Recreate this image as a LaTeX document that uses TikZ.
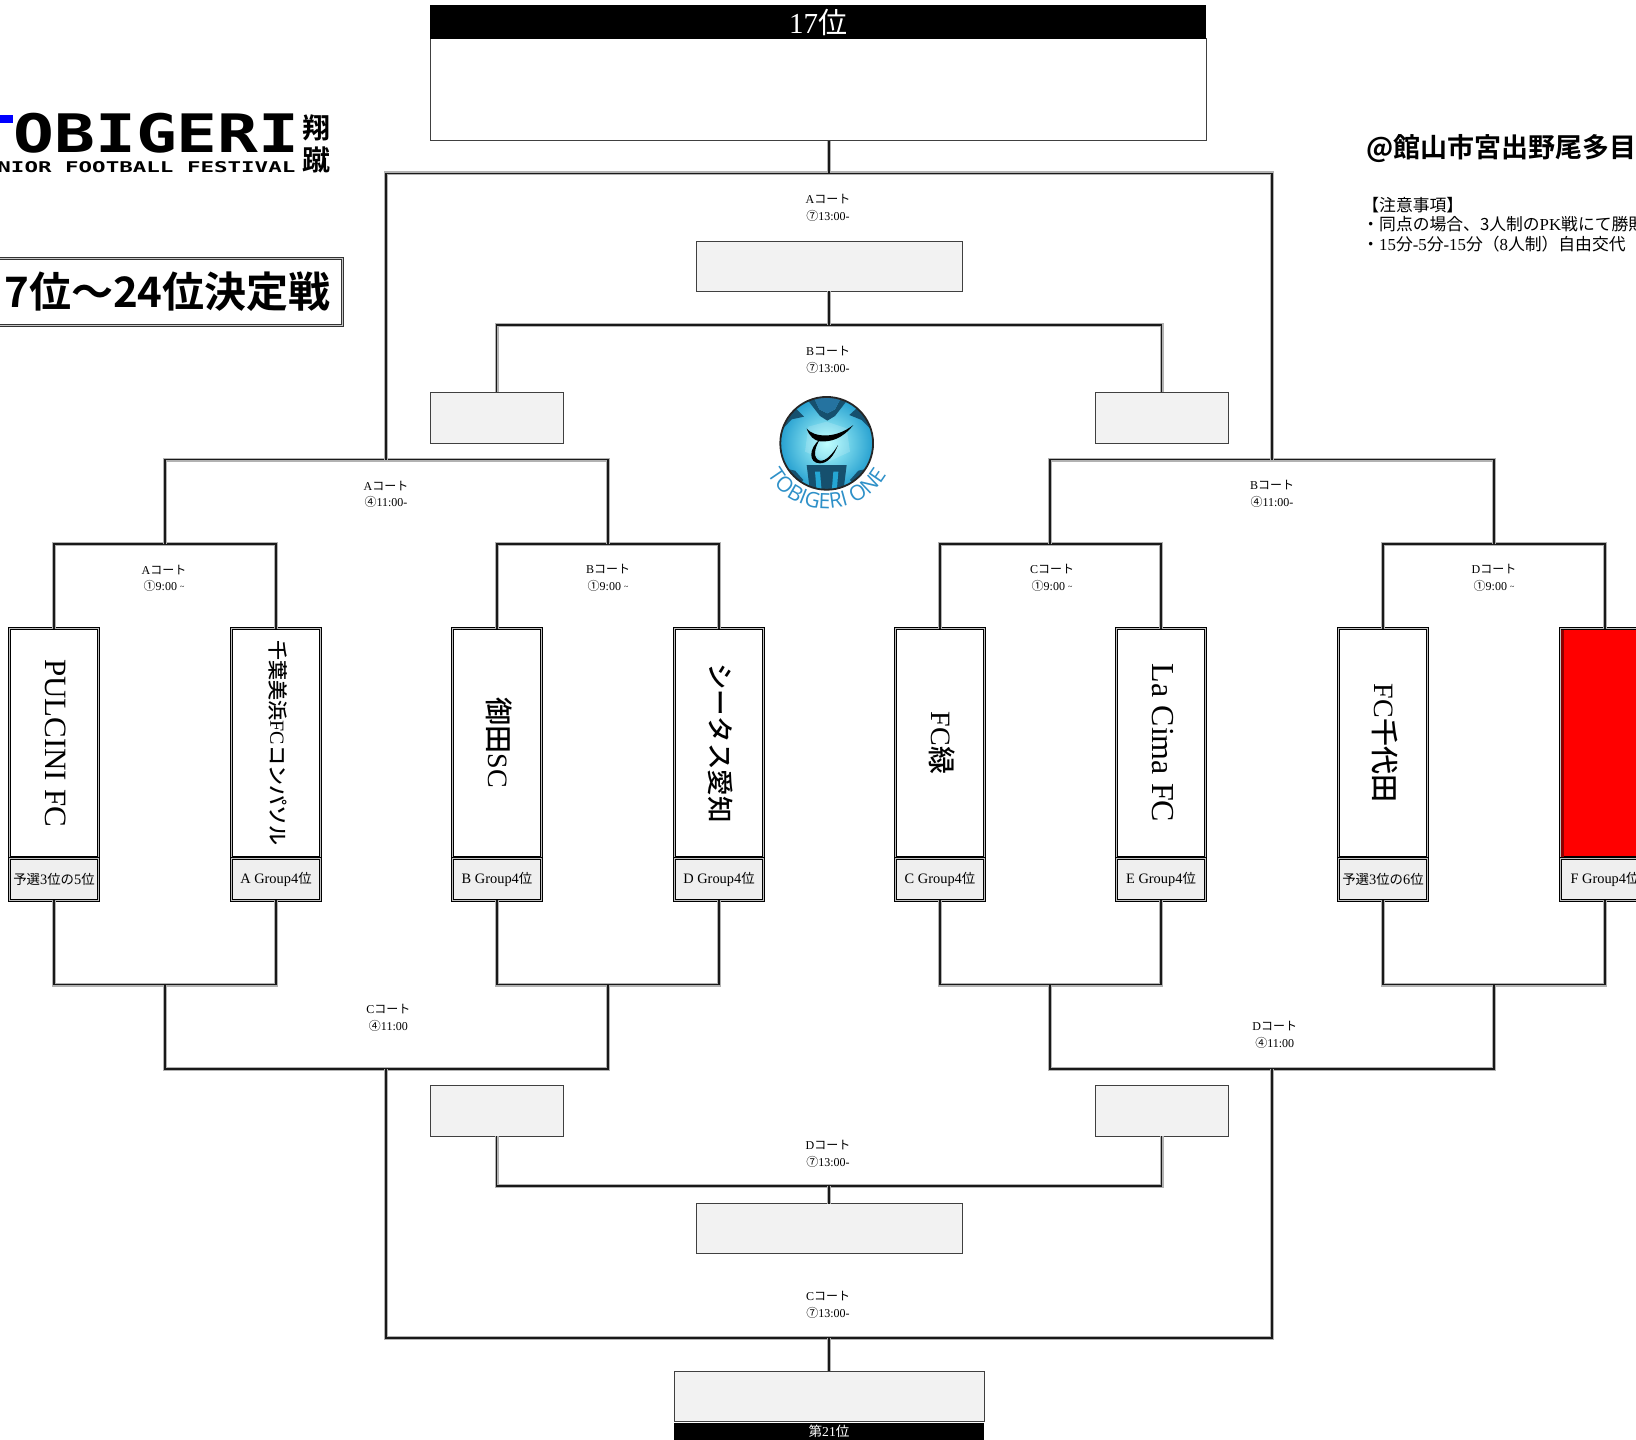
\documentclass[tikz,border=0pt]{standalone}
\usepackage{fontspec}
\usetikzlibrary{decorations.text}
\setmainfont{Liberation Serif}
\newfontfamily\jf{Noto Sans CJK JP}
\newfontfamily\jb{Noto Sans CJK JP Bold}
\newfontfamily\jm{Noto Sans CJK JP Medium}
\newfontfamily\logomono{DejaVu Sans Mono Bold}
\newfontfamily\arcfont{Open Sans}
\newcommand{\J}[1]{{\jf #1}}
\newcommand{\B}[1]{{\jb #1}}
\newcommand{\M}[1]{{\jm #1}}
\newcommand{\fs}[1]{\fontsize{#1}{#1}\selectfont}
\definecolor{boxgray}{HTML}{F2F2F2}
\definecolor{grpgray}{HTML}{EFEFEF}
\definecolor{ballblue}{HTML}{2E90C8}
\definecolor{balldark}{HTML}{16506E}
\tikzset{
  conn/.style={draw=black!90, line width=.62pt, line join=miter, preaction={draw=gray!60, line width=2pt}},
  teambox/.style={draw=black, line width=.45pt, double=gray!50, double distance=.55pt, minimum width=44.3pt, minimum height=114.2pt, inner sep=0pt, outer sep=0pt},
  groupbox/.style={draw=black, line width=.45pt, double=gray!50, double distance=.55pt, fill=grpgray, minimum width=44.3pt, minimum height=20.6pt, inner sep=0pt, outer sep=0pt, font=\fs{7.2}},
  emptybox/.style={draw=black!75, line width=.5pt, fill=boxgray, inner sep=0pt, outer sep=0pt},
  court/.style={align=center, inner sep=0pt, font=\fontsize{6}{8.2}\selectfont},
  tname/.style={rotate=-90, inner sep=0pt},
  blackbar/.style={fill=black, text=white, inner sep=0pt, outer sep=0pt}
}
\newcommand{\team}[6]{% id, x, name, group, fill
  \node[teambox,fill=#5] (t#1) at (#2,743) {};
  \node[tname] (n#1) at (#2+2,743) {#3};
  \node[groupbox] (g#1) at (#2,879.5) {#4};
}
\begin{document}
\begin{tikzpicture}[x=0.5pt,y=-0.5pt]
\path[use as bounding box,clip] (0,0) rectangle (1636,1439);

% ---- top and bottom result boxes
\node[draw=black!75,line width=.5pt,fill=white,minimum width=388pt,minimum height=51pt,inner sep=0pt,outer sep=0pt] (top17) at (818,90) {};
\node[blackbar,minimum width=388pt,minimum height=17pt] (hdr) at (818,22) {\fs{14.5}17\J{位}};
\node[emptybox,minimum width=155pt,minimum height=25.2pt] (fbot) at (829,1396.5) {};
\node[blackbar,minimum width=155pt,minimum height=8.5pt] (ftr) at (829,1431) {\fs{6.8}\J{第}21\J{位}};

% ---- semi-final boxes
\node[emptybox,minimum width=133pt,minimum height=25pt] (sfA) at (829,266) {};
\node[emptybox,minimum width=66.5pt,minimum height=25.5pt] (qfAL) at (496.5,417.5) {};
\node[emptybox,minimum width=66.5pt,minimum height=25.5pt] (qfAR) at (1161.5,417.5) {};
\node[emptybox,minimum width=133pt,minimum height=25pt] (sfB) at (829,1228.5) {};
\node[emptybox,minimum width=66.5pt,minimum height=25.5pt] (qfBL) at (496.5,1110.5) {};
\node[emptybox,minimum width=66.5pt,minimum height=25.5pt] (qfBR) at (1161.5,1110.5) {};

% ---- teams
\team{1}{54}{\fs{15.5}PULCINI FC}{\J{\fs{6.7}予選}3\J{\fs{6.7}位の}5\J{\fs{6.7}位}}{white}{}
\team{2}{276}{\fs{10}\M{千葉美浜}FC\M{コンパソル}}{A Group4\J{\fs{6.7}位}}{white}{}
\team{3}{497}{\fs{14}\M{御田}SC}{B Group4\J{\fs{6.7}位}}{white}{}
\team{4}{719}{\fs{13.3}\M{シータス愛知}}{D Group4\J{\fs{6.7}位}}{white}{}
\team{5}{940}{\fs{14}FC\M{緑}}{C Group4\J{\fs{6.7}位}}{white}{}
\team{6}{1161}{\fs{16}La Cima FC}{E Group4\J{\fs{6.7}位}}{white}{}
\team{7}{1383}{\fs{14}FC\M{千代田}}{\J{\fs{6.7}予選}3\J{\fs{6.7}位の}6\J{\fs{6.7}位}}{white}{}
\team{8}{1605}{}{F Group4\J{\fs{6.7}位}}{red}{}
\fill[red!55!black] (1560.5,629.5) rectangle (1564,857);

% ---- junctions
\coordinate (u1) at (165,544);
\coordinate (u2) at (608,544);
\coordinate (u3) at (1050,544);
\coordinate (u4) at (1494,544);
\coordinate (v1) at (386,459.5);
\coordinate (v2) at (1272,459.5);
\coordinate (w) at (829,173.5);
\coordinate (xA) at (829,325);
\coordinate (d1) at (165,984.5);
\coordinate (d2) at (608,984.5);
\coordinate (d3) at (1050,984.5);
\coordinate (d4) at (1494,984.5);
\coordinate (e1) at (386,1069);
\coordinate (e2) at (1272,1069);
\coordinate (f) at (829,1338);
\coordinate (xB) at (829,1186);

% ---- connectors, upper half
\draw[conn] (t1.north) |- (u1) -| (t2.north);
\draw[conn] (t3.north) |- (u2) -| (t4.north);
\draw[conn] (t5.north) |- (u3) -| (t6.north);
\draw[conn] (t7.north) |- (u4) -| (t8.north);
\draw[conn] (u1) |- (v1) -| (u2);
\draw[conn] (u3) |- (v2) -| (u4);
\draw[conn] (v1) |- (w) -| (v2);
\draw[conn] (top17.south -| w) -- (w);
\draw[conn] (qfAL.north) |- (xA) -| (qfAR.north);
\draw[conn] (sfA.south) -- (xA);
% ---- connectors, lower half
\draw[conn] (g1.south) |- (d1) -| (g2.south);
\draw[conn] (g3.south) |- (d2) -| (g4.south);
\draw[conn] (g5.south) |- (d3) -| (g6.south);
\draw[conn] (g7.south) |- (d4) -| (g8.south);
\draw[conn] (d1) |- (e1) -| (d2);
\draw[conn] (d3) |- (e2) -| (d4);
\draw[conn] (e1) |- (f) -| (e2);
\draw[conn] (f) -- (fbot.north);
\draw[conn] (qfBL.south) |- (xB) -| (qfBR.south);
\draw[conn] (sfB.north) -- (xB);

% ---- court labels
\node[court] (c1) at (828,208) {A\J{コート}\\\J{⑦}13:00-};
\node[court] (c2) at (828,360) {B\J{コート}\\\J{⑦}13:00-};
\node[court] (c3) at (386,494.5) {A\J{コート}\\\J{④}11:00-};
\node[court] (c4) at (1272,494) {B\J{コート}\\\J{④}11:00-};
\node[court] (c5) at (164,578.5) {A\J{コート}\\\J{①}9:00 \raisebox{.5pt}{\fs{4}\textasciitilde}};
\node[court] (c6) at (608,578) {B\J{コート}\\\J{①}9:00 \raisebox{.5pt}{\fs{4}\textasciitilde}};
\node[court] (c7) at (1052,578) {C\J{コート}\\\J{①}9:00 \raisebox{.5pt}{\fs{4}\textasciitilde}};
\node[court] (c8) at (1494,578) {D\J{コート}\\\J{①}9:00 \raisebox{.5pt}{\fs{4}\textasciitilde}};
\begin{scope}
  \clip (340,990) rectangle (409,1050);
  \node[court,anchor=west] (c9) at (366,1018) {C\J{コート}\\\J{④}11:00};
\end{scope}
\begin{scope}
  \clip (1230,1010) rectangle (1295,1060);
  \node[court,anchor=west] (c10) at (1252,1035) {D\J{コート}\\\J{④}11:00};
\end{scope}
\node[court] (c11) at (828,1154) {D\J{コート}\\\J{⑦}13:00-};
\node[court] (c12) at (828,1305) {C\J{コート}\\\J{⑦}13:00-};

% ---- title panel
\node[draw=black!80,line width=.55pt,double=gray!45,double distance=.4pt,fill=white,minimum width=174pt,minimum height=33.5pt,inner sep=0pt,outer sep=0pt] (title) at (168,292) {};
\node[inner sep=0pt,anchor=west] (titletext) at (4,292) {\fs{21}\B{7位～24位決定戦}};

% ---- venue and notes
\node[inner sep=0pt,anchor=west] (venue) at (1366,149) {\fs{13.5}\B{@館山市宮出野尾多目}};
\node[inner sep=0pt,anchor=north west,align=left,font=\fontsize{8.4}{9.6}\selectfont] (notes) at (1362,197) {\J{【注意事項】}\\\J{・同点の場合、3人制の}PK\J{戦にて勝敗}\\\J{・}15\J{分}-5\J{分}-15\J{分（}8\J{人制）自由交代}};

% ---- festival logo
\fill[blue] (0,115) rectangle (13,123);
\node[inner sep=0pt,anchor=east,xscale=1.28] (logoa) at (300,133.5) {\logomono\fs{26.5}OBIGERI};
\node[inner sep=0pt,anchor=east,xscale=1.52] (logob) at (296,167.5) {\logomono\fs{7.4}NIOR FOOTBALL FESTIVAL};
\node[inner sep=0pt] (logoc) at (316,128) {\fs{14}\B{翔}};
\node[inner sep=0pt] (logod) at (316,160) {\fs{14}\B{蹴}};

% ---- ball emblem
\begin{scope}[shift={(740,380)},x=.16667pt,y=-.16667pt]
  \coordinate (bc) at (260,190);
  \begin{scope}
    \path[clip] (bc) circle[radius=23.2pt];
    \shade[inner color=cyan!30!white,outer color=ballblue!85!cyan] (bc) circle[radius=23.2pt];
    \fill[white,opacity=.16] (205,140)--(260,125)--(320,145)--(330,215)--(265,245)--(195,215)--cycle;
    % top hexagon ring
    \fill[balldark] (195,50)--(240,108)--(262,122)--(285,108)--(330,50)--(305,50)--(285,88)--(262,100)--(238,88)--(220,50)--cycle;
    \fill[ballblue!80!black] (220,50)--(238,88)--(262,100)--(285,88)--(305,50)--cycle;
    % side patches
    \fill[balldark] (120,100)--(170,88)--(192,110)--(155,118)--(125,150)--cycle;
    \fill[balldark] (400,100)--(350,85)--(328,105)--(365,120)--(395,150)--cycle;
    % bottom pieces
    \fill[balldark] (200,255)--(320,255)--(310,335)--(210,335)--cycle;
    \fill[ballblue!80!cyan] (225,275)--(240,275)--(245,335)--(230,335)--cycle;
    \fill[ballblue!80!cyan] (280,275)--(295,275)--(290,335)--(275,335)--cycle;
    \fill[balldark] (120,262)--(165,272)--(190,300)--(160,335)--(120,300)--cycle;
    \fill[balldark] (400,262)--(355,272)--(330,300)--(360,335)--(400,300)--cycle;
  \end{scope}
  \draw[black!85,line width=.9pt] (bc) circle[radius=23.2pt];
  % stylised T
  \fill[black] (200,146) .. controls (222,172) and (285,178) .. (340,135) .. controls (305,178) and (272,186) .. (240,184) .. controls (222,182) and (208,168) .. (200,146) -- cycle;
  \fill[black] (240,178) .. controls (205,205) and (205,250) .. (240,250) .. controls (262,250) and (282,228) .. (294,195) .. controls (278,222) and (258,244) .. (240,242) .. controls (218,236) and (222,205) .. (240,178) -- cycle;
\end{scope}
\path[decorate,decoration={text along path,text align=center,text={|\arcfont\fs{10.6}\color{ballblue}|TOBIGERI ONE}}]
  (766,472) .. controls (790.6,521) and (863.4,521) .. (888,472);

\end{tikzpicture}
\end{document}
